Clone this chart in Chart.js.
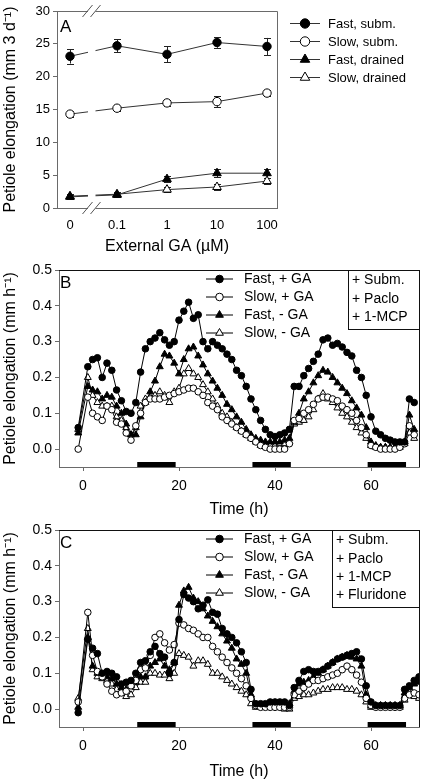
<!DOCTYPE html>
<html>
<head>
<meta charset="utf-8">
<script src="https://cdn.jsdelivr.net/npm/chart.js@4.4.1/dist/chart.umd.min.js"></script>
<style>
html, body { margin: 0; padding: 0; background: #fff; }
body { width: 424px; height: 781px; position: relative; overflow: hidden; }
canvas { position: absolute; left: 0; }
</style>
</head>
<body>
<canvas id="chartA" width="424" height="256" style="top:0px"></canvas>
<canvas id="chartB" width="424" height="265" style="top:255px"></canvas>
<canvas id="chartC" width="424" height="266" style="top:515px"></canvas>
<script>
// ---- panel A: elongation over 3 days vs external GA ----
const gaLabels = ['0', '0.1', '1', '10', '100'];
const gaConc = [0, 0.1, 1, 10, 100];
const fastSubm = [23.1, 24.7, 23.4, 25.2, 24.6];
const fastSubmErr = [1.1, 1.0, 1.2, 0.8, 1.3];
const slowSubm = [14.3, 15.2, 16.0, 16.2, 17.5];
const slowSubmErr = [0.4, 0.4, 0.4, 0.8, 0.4];
const fastDrained = [1.7, 2.0, 4.4, 5.3, 5.3];
const fastDrainedErr = [0.3, 0.3, 0.4, 0.6, 0.7];
const slowDrained = [1.8, 2.1, 2.8, 3.2, 4.1];
const slowDrainedErr = [0.3, 0.3, 0.4, 0.4, 0.5];
const yTicksA = [0, 5, 10, 15, 20, 25, 30];

// ---- panel B: + Subm. + Paclo + 1-MCP ----
const timeB = [-1, 1, 2, 3, 4, 5, 6, 7, 8, 9, 10, 11, 12, 13, 14, 15, 16, 17, 18, 19, 20,
  21, 22, 23, 24, 25, 26, 27, 28, 29, 30, 31, 32, 33, 34, 35, 36, 37, 38, 39, 40,
  41, 42, 43, 44, 45, 46, 47, 48, 49, 50, 51, 52, 53, 54, 55, 56, 57, 58, 59, 60,
  61, 62, 63, 64, 65, 66, 67, 68, 69];
const bFastPlusGA = [0.06, 0.23, 0.25, 0.255, 0.20, 0.24, 0.22, 0.165, 0.135, 0.105, 0.10,
  0.13, 0.215, 0.28, 0.30, 0.31, 0.325, 0.305, 0.29, 0.30, 0.36,
  0.385, 0.41, 0.365, 0.375, 0.30, 0.28, 0.30, 0.29, 0.28, 0.265,
  0.25, 0.22, 0.205, 0.175, 0.14, 0.11, 0.08, 0.055, 0.04, 0.035,
  0.04, 0.045, 0.055, 0.175, 0.175, 0.205, 0.225, 0.245, 0.265, 0.305,
  0.31, 0.29, 0.295, 0.285, 0.27, 0.26, 0.22, 0.20, 0.15, 0.09,
  0.05, 0.04, 0.03, 0.025, 0.02, 0.02, 0.02, 0.14, 0.13];
const bSlowPlusGA = [0.0, 0.145, 0.10, 0.09, 0.08, 0.12, 0.11, 0.075, 0.07, 0.045, 0.025,
  0.065, 0.10, 0.13, 0.14, 0.14, 0.14, 0.145, 0.15, 0.155, 0.16,
  0.165, 0.17, 0.17, 0.16, 0.15, 0.13, 0.12, 0.11, 0.09, 0.08,
  0.07, 0.06, 0.05, 0.04, 0.03, 0.02, 0.01, 0.005, 0.0, 0.0,
  0.0, 0.0, 0.015, 0.08, 0.085, 0.10, 0.11, 0.125, 0.14, 0.145,
  0.145, 0.14, 0.135, 0.12, 0.11, 0.10, 0.08, 0.06, 0.04, 0.01,
  0.005, 0.0, 0.0, 0.0, 0.0, 0.005, 0.015, 0.065, 0.04];
const bFastMinusGA = [0.045, 0.175, 0.165, 0.16, 0.14, 0.15, 0.145, 0.12, 0.10, 0.07, 0.04,
  0.04, 0.09, 0.13, 0.16, 0.19, 0.23, 0.265, 0.26, 0.24, 0.21,
  0.25, 0.28, 0.285, 0.26, 0.235, 0.21, 0.19, 0.17, 0.15, 0.125,
  0.11, 0.09, 0.075, 0.055, 0.04, 0.03, 0.025, 0.02, 0.02, 0.02,
  0.02, 0.025, 0.03, 0.075, 0.10, 0.14, 0.16, 0.185, 0.205, 0.22,
  0.215, 0.20, 0.185, 0.17, 0.155, 0.135, 0.115, 0.095, 0.06, 0.02,
  0.01, 0.005, 0.005, 0.005, 0.005, 0.01, 0.02, 0.095, 0.055];
const bSlowMinusGA = [0.055, 0.20, 0.15, 0.13, 0.12, 0.12, 0.12, 0.09, 0.08, 0.06, 0.04,
  0.06, 0.12, 0.14, 0.145, 0.15, 0.16, 0.15, 0.13, 0.16, 0.17,
  0.21, 0.225, 0.21, 0.20, 0.18, 0.16, 0.14, 0.12, 0.10, 0.09,
  0.075, 0.06, 0.05, 0.04, 0.03, 0.02, 0.01, 0.01, 0.01, 0.01,
  0.015, 0.015, 0.02, 0.07, 0.075, 0.08, 0.09, 0.11, 0.14, 0.155,
  0.14, 0.13, 0.115, 0.10, 0.09, 0.075, 0.06, 0.045, 0.03, 0.01,
  0.005, 0.005, 0.005, 0.005, 0.005, 0.005, 0.015, 0.045, 0.03];

// ---- panel C: + Subm. + Paclo + 1-MCP + Fluridone ----
const timeC = [-1, 1, 2, 3, 4, 5, 6, 7, 8, 9, 10, 11, 12, 13, 14, 15, 16, 17, 18, 19, 20,
  21, 22, 23, 24, 25, 26, 27, 28, 29, 30, 31, 32, 33, 34, 35, 36, 37, 38, 39, 40,
  41, 42, 43, 44, 45, 46, 47, 48, 49, 50, 51, 52, 53, 54, 55, 56, 57, 58, 59, 60,
  61, 62, 63, 64, 65, 66, 67, 68, 69, 70];
const cFastPlusGA = [-0.01, 0.195, 0.17, 0.155, 0.10, 0.105, 0.10, 0.09, 0.07, 0.075, 0.08,
  0.10, 0.13, 0.135, 0.16, 0.175, 0.155, 0.145, 0.10, 0.13, 0.25,
  0.32, 0.31, 0.30, 0.28, 0.29, 0.305, 0.27, 0.265, 0.225, 0.21,
  0.20, 0.185, 0.16, 0.13, 0.055, 0.015, 0.015, 0.015, 0.02, 0.02,
  0.02, 0.02, 0.01, 0.06, 0.08, 0.105, 0.11, 0.105, 0.105, 0.11,
  0.12, 0.13, 0.14, 0.145, 0.15, 0.155, 0.16, 0.14, 0.065, 0.02,
  0.01, 0.01, 0.01, 0.01, 0.01, 0.01, 0.055, 0.065, 0.08, 0.09];
const cSlowPlusGA = [0.02, 0.27, 0.15, 0.105, 0.09, 0.07, 0.05, 0.04, 0.045, 0.05, 0.065,
  0.08, 0.11, 0.115, 0.15, 0.20, 0.21, 0.185, 0.165, 0.18, 0.24,
  0.235, 0.225, 0.22, 0.21, 0.20, 0.20, 0.175, 0.16, 0.145, 0.13,
  0.115, 0.10, 0.085, 0.065, 0.03, 0.01, 0.005, 0.005, 0.005, 0.005,
  0.005, 0.005, 0.005, 0.04, 0.05, 0.06, 0.07, 0.08, 0.08, 0.085,
  0.09, 0.095, 0.10, 0.11, 0.12, 0.11, 0.095, 0.075, 0.03, 0.01,
  0.005, 0.005, 0.005, 0.005, 0.005, 0.005, 0.03, 0.04, 0.045, 0.04];
const cFastMinusGA = [0.005, 0.20, 0.12, 0.10, 0.09, 0.09, 0.085, 0.07, 0.06, 0.055, 0.065,
  0.075, 0.09, 0.09, 0.12, 0.13, 0.14, 0.12, 0.11, 0.13, 0.29,
  0.33, 0.34, 0.31, 0.30, 0.28, 0.26, 0.245, 0.23, 0.21, 0.19,
  0.17, 0.14, 0.125, 0.10, 0.04, 0.01, 0.01, 0.01, 0.01, 0.015,
  0.015, 0.015, 0.015, 0.05, 0.07, 0.075, 0.08, 0.09, 0.10, 0.11,
  0.12, 0.13, 0.14, 0.145, 0.15, 0.145, 0.14, 0.12, 0.04, 0.01,
  0.01, 0.01, 0.01, 0.01, 0.01, 0.01, 0.045, 0.06, 0.07, 0.075];
const cSlowMinusGA = [0.03, 0.225, 0.11, 0.09, 0.085, 0.08, 0.07, 0.055, 0.045, 0.035, 0.04,
  0.06, 0.075, 0.075, 0.10, 0.10, 0.095, 0.095, 0.085, 0.10, 0.155,
  0.15, 0.145, 0.12, 0.135, 0.135, 0.125, 0.10, 0.10, 0.09, 0.08,
  0.07, 0.06, 0.05, 0.04, 0.015, 0.005, 0.005, 0.005, 0.005, 0.005,
  0.005, 0.0, 0.0, 0.03, 0.035, 0.04, 0.04, 0.045, 0.05, 0.055,
  0.055, 0.06, 0.06, 0.06, 0.055, 0.055, 0.05, 0.04, 0.02, 0.005,
  0.005, 0.005, 0.005, 0.005, 0.005, 0.005, 0.025, 0.045, 0.035, 0.03];

// dark periods (h) and axis ticks shared by B and C
const darkStart = [11.3, 35.3, 59.3];
const darkEnd = [19.3, 43.3, 67.3];
const timeTicks = [0, 20, 40, 60];
const rateTicks = [0, 0.1, 0.2, 0.3, 0.4, 0.5];

const FONT = '"Liberation Sans", Arial, Helvetica, sans-serif';
const AXIS = '#6a6a6a';

// "0" sits left of the axis break, the rest on a log10 position
function gaPos(c) { return c === 0 ? -1.94 : Math.log10(c); }

function drawMarker(ctx, style, x, y, r, fill) {
  ctx.beginPath();
  if (style === 'triangle') {
    ctx.moveTo(x, y - r);
    ctx.lineTo(x + r * Math.sin(2 * Math.PI / 3), y - r * Math.cos(2 * Math.PI / 3));
    ctx.lineTo(x + r * Math.sin(4 * Math.PI / 3), y - r * Math.cos(4 * Math.PI / 3));
    ctx.closePath();
  } else {
    ctx.arc(x, y, r, 0, Math.PI * 2);
  }
  ctx.fillStyle = fill;
  ctx.fill();
  ctx.lineWidth = 1;
  ctx.strokeStyle = '#000';
  ctx.stroke();
}

function makeSeries(label, xs, ys, style, fill, r, lineColor) {
  return {
    label: label,
    data: ys.map((v, i) => ({ x: xs[i], y: v })),
    showLine: true,
    borderColor: lineColor,
    borderWidth: 1,
    pointStyle: style,
    pointRadius: r,
    pointBackgroundColor: fill,
    pointBorderColor: '#000',
    pointBorderWidth: 1
  };
}

function legendPlugin(x0, x1, tx, y0, dy, fontSize) {
  return {
    id: 'legendDraw',
    afterDraw(chart) {
      const ctx = chart.ctx;
      ctx.save();
      chart.data.datasets.forEach((ds, i) => {
        const y = y0 + i * dy;
        ctx.strokeStyle = ds.borderColor;
        ctx.lineWidth = 1;
        ctx.beginPath();
        ctx.moveTo(x0, y);
        ctx.lineTo(x1, y);
        ctx.stroke();
        drawMarker(ctx, ds.pointStyle, (x0 + x1) / 2, y, ds.pointRadius + 0.5, ds.pointBackgroundColor);
        ctx.fillStyle = '#000';
        ctx.font = fontSize + 'px ' + FONT;
        ctx.textAlign = 'left';
        ctx.textBaseline = 'middle';
        ctx.fillText(ds.label, tx, y + 0.5);
      });
      ctx.restore();
    }
  };
}

function framePlugin(color) {
  return {
    id: 'frameDraw',
    afterDatasetsDraw(chart) {
      const ctx = chart.ctx, a = chart.chartArea;
      ctx.save();
      ctx.strokeStyle = color;
      ctx.lineWidth = 1;
      ctx.beginPath();
      ctx.moveTo(Math.round(a.left), Math.round(a.top) + 0.5);
      ctx.lineTo(Math.round(a.right) + 0.5, Math.round(a.top) + 0.5);
      ctx.lineTo(Math.round(a.right) + 0.5, Math.round(a.bottom));
      ctx.stroke();
      ctx.restore();
    }
  };
}

function letterPlugin(letter, x, y) {
  return {
    id: 'letterDraw',
    afterDraw(chart) {
      const ctx = chart.ctx;
      ctx.save();
      ctx.fillStyle = '#000';
      ctx.font = '17px ' + FONT;
      ctx.textAlign = 'left';
      ctx.textBaseline = 'middle';
      ctx.fillText(letter, x, y);
      ctx.restore();
    }
  };
}

// ---------------- Panel A ----------------
const errA = [fastSubmErr, slowSubmErr, fastDrainedErr, slowDrainedErr];
const gaX = gaConc.map(gaPos);

new Chart(document.getElementById('chartA'), {
  type: 'scatter',
  data: {
    datasets: [
      makeSeries('Fast, subm.', gaX, fastSubm, 'circle', '#000', 4.2, '#333'),
      makeSeries('Slow, subm.', gaX, slowSubm, 'circle', '#fff', 4.2, '#333'),
      makeSeries('Fast, drained', gaX, fastDrained, 'triangle', '#000', 5, '#333'),
      makeSeries('Slow, drained', gaX, slowDrained, 'triangle', '#fff', 5, '#333')
    ]
  },
  options: {
    responsive: false,
    animation: false,
    devicePixelRatio: 1,
    layout: { padding: { top: 11, right: 147, left: 0, bottom: 0 } },
    plugins: { legend: { display: false }, tooltip: { enabled: false } },
    scales: {
      x: {
        type: 'linear', min: -2.2, max: 2.2,
        afterBuildTicks: s => { s.ticks = gaX.map(v => ({ value: v })); },
        ticks: { callback: (v, i) => gaLabels[i], color: '#000', font: { family: FONT, size: 13 }, padding: 6, maxRotation: 0 },
        grid: { drawOnChartArea: false, tickLength: 4, color: AXIS, tickColor: 'rgba(0,0,0,0)' },
        border: { color: AXIS },
        title: { display: true, text: 'External GA (\u00b5M)', color: '#000', font: { family: FONT, size: 16 }, padding: { top: 0, bottom: 0 } },
        afterFit: s => { s.height = 48; }
      },
      y: {
        min: 0, max: 30,
        afterBuildTicks: s => { s.ticks = yTicksA.map(v => ({ value: v })); },
        ticks: { color: '#000', font: { family: FONT, size: 13 }, padding: 3 },
        grid: { drawOnChartArea: false, tickLength: 4, color: AXIS },
        border: { color: AXIS },
        title: { display: true, text: 'Petiole elongation (mm 3 d\u207b\u00b9)', color: '#000', font: { family: FONT, size: 16 }, padding: { top: 1, bottom: 0 } },
        afterFit: s => { s.width = 57; }
      }
    }
  },
  plugins: [
    {
      id: 'errorBars',
      beforeDatasetsDraw(chart) {
        const ctx = chart.ctx, xs = chart.scales.x, ys = chart.scales.y;
        ctx.save();
        ctx.strokeStyle = '#222';
        ctx.lineWidth = 1;
        chart.data.datasets.forEach((ds, d) => {
          ds.data.forEach((p, i) => {
            const px = Math.round(xs.getPixelForValue(p.x)) + 0.5;
            const top = ys.getPixelForValue(p.y + errA[d][i]);
            const bot = ys.getPixelForValue(p.y - errA[d][i]);
            ctx.beginPath();
            ctx.moveTo(px, top); ctx.lineTo(px, bot);
            ctx.moveTo(px - 3.5, Math.round(top) + 0.5); ctx.lineTo(px + 3.5, Math.round(top) + 0.5);
            ctx.moveTo(px - 3.5, Math.round(bot) + 0.5); ctx.lineTo(px + 3.5, Math.round(bot) + 0.5);
            ctx.stroke();
          });
        });
        ctx.restore();
      }
    },
    framePlugin(AXIS),
    {
      id: 'axisBreak',
      afterDatasetsDraw(chart) {
        const ctx = chart.ctx, a = chart.chartArea;
        const xs = chart.scales.x;
        const mid = (xs.getPixelForValue(gaX[0]) + xs.getPixelForValue(gaX[1])) / 2 - 2;
        ctx.save();
        ctx.fillStyle = '#fff';
        ctx.fillRect(mid - 3.5, a.top - 2, 7.5, a.bottom - a.top + 4);
        ctx.strokeStyle = '#555';
        ctx.lineWidth = 1;
        [a.top, a.bottom].forEach(cy => {
          [mid - 4, mid + 4].forEach(cx => {
            ctx.beginPath();
            ctx.moveTo(cx - 5, cy + 6);
            ctx.lineTo(cx + 5, cy - 6);
            ctx.stroke();
          });
        });
        ctx.restore();
      }
    },
    legendPlugin(290, 320, 328, 23.5, 18, 13),
    letterPlugin('A', 60, 27)
  ]
});

// ---------------- Panels B and C ----------------
function timePanel(id, letter, times, series, boxLines, boxLeft, xTitleHeight, xTitlePad) {
  const styles = [
    ['Fast, + GA', 'circle', '#000', 3.3],
    ['Slow, + GA', 'circle', '#fff', 3.3],
    ['Fast, - GA', 'triangle', '#000', 4],
    ['Slow, - GA', 'triangle', '#fff', 4]
  ];
  const datasets = series.map((ys, i) => makeSeries(styles[i][0], times, ys, styles[i][1], styles[i][2], styles[i][3], '#000'));
  return new Chart(document.getElementById(id), {
    type: 'scatter',
    data: { datasets: datasets },
    options: {
      responsive: false,
      animation: false,
      devicePixelRatio: 1,
      layout: { padding: { top: 15, right: 5, left: 0, bottom: 0 } },
      plugins: { legend: { display: false }, tooltip: { enabled: false } },
      scales: {
        x: {
          type: 'linear', min: -5, max: 70,
          afterBuildTicks: s => { s.ticks = timeTicks.map(v => ({ value: v })); },
          ticks: { color: '#000', font: { family: FONT, size: 14 }, padding: 7, maxRotation: 0 },
          grid: { drawOnChartArea: false, tickLength: 4, color: AXIS },
          border: { color: AXIS },
          title: { display: true, text: 'Time (h)', color: '#000', font: { family: FONT, size: 16 }, padding: { top: 0, bottom: xTitlePad } },
          afterFit: s => { s.height = xTitleHeight; }
        },
        y: {
          min: -0.05, max: 0.5,
          afterBuildTicks: s => { s.ticks = rateTicks.map(v => ({ value: v })); },
          ticks: { callback: v => v.toFixed(1), color: '#000', font: { family: FONT, size: 14 }, padding: 3 },
          grid: { drawOnChartArea: false, tickLength: 4, color: AXIS },
          border: { color: AXIS },
          title: { display: true, text: 'Petiole elongation (mm h\u207b\u00b9)', color: '#000', font: { family: FONT, size: 16 }, padding: { top: 1, bottom: 0 } },
          afterFit: s => { s.width = 59; }
        }
      }
    },
    plugins: [
      {
        id: 'darkBars',
        afterDatasetsDraw(chart) {
          const ctx = chart.ctx, a = chart.chartArea, xs = chart.scales.x;
          ctx.save();
          ctx.fillStyle = '#000';
          darkStart.forEach((s, i) => {
            const x0 = xs.getPixelForValue(s), x1 = xs.getPixelForValue(darkEnd[i]);
            ctx.fillRect(x0, a.bottom - 5, x1 - x0, 5);
          });
          ctx.restore();
        }
      },
      framePlugin('#111'),
      {
        id: 'treatBox',
        afterDraw(chart) {
          const ctx = chart.ctx, a = chart.chartArea;
          const h = 4 + boxLines.length * 18.2;
          ctx.save();
          ctx.fillStyle = '#fff';
          ctx.fillRect(boxLeft, a.top, a.right - boxLeft, h);
          ctx.strokeStyle = '#111';
          ctx.lineWidth = 1;
          ctx.strokeRect(boxLeft + 0.5, Math.round(a.top) + 0.5, a.right - boxLeft, Math.round(h));
          ctx.fillStyle = '#000';
          ctx.font = '14px ' + FONT;
          ctx.textAlign = 'left';
          ctx.textBaseline = 'middle';
          boxLines.forEach((t, i) => ctx.fillText(t, boxLeft + 4, a.top + 10.5 + i * 18.2));
          ctx.restore();
        }
      },
      legendPlugin(206, 233, 244, 24, 18, 14),
      letterPlugin(letter, 60, 28)
    ]
  });
}

timePanel('chartB', 'B', timeB, [bFastPlusGA, bSlowPlusGA, bFastMinusGA, bSlowMinusGA],
  ['+ Subm.', '+ Paclo', '+ 1-MCP'], 348, 53, 1);
timePanel('chartC', 'C', timeC, [cFastPlusGA, cSlowPlusGA, cFastMinusGA, cSlowMinusGA],
  ['+ Subm.', '+ Paclo', '+ 1-MCP', '+ Fluridone'], 332, 54, 0);
</script>
</body>
</html>
